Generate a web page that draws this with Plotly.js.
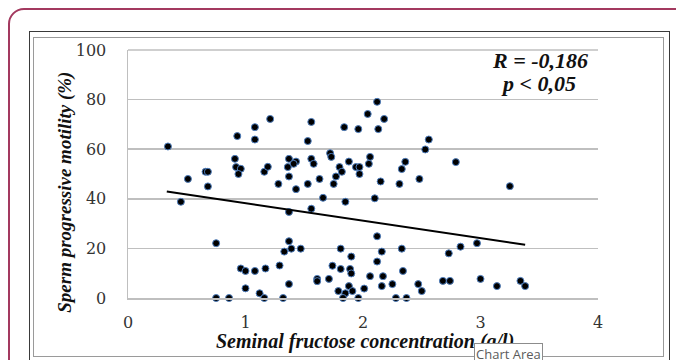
<!DOCTYPE html>
<html>
<head>
<meta charset="utf-8">
<script src="https://cdn.plot.ly/plotly-3.0.1.min.js"></script>
<style>
  html, body { margin: 0; padding: 0; background: #ffffff; }
  #wrap { position: relative; width: 676px; height: 360px; overflow: hidden; background: #fff; }
  #pink { position: absolute; left: 8px; top: 8px; width: 700px; height: 400px; border: 2px solid #a3395f; border-radius: 16px; box-sizing: border-box; }
  #outerFrame { position: absolute; left: 29px; top: 31px; width: 641px; height: 340px; border: 1px solid #3a3a3a; box-sizing: border-box; }
  #innerFrame { position: absolute; left: 33px; top: 37px; width: 631px; height: 320px; border: 1px solid #9a9a9a; box-sizing: border-box; }
  #chart { position: absolute; left: 0; top: 0; width: 676px; height: 360px; }
</style>
</head>
<body>
<div id="wrap">
  <div id="pink"></div>
  <div id="outerFrame"></div>
  <div id="innerFrame"></div>
  <div id="chart"></div>
</div>
<script>
// Seminal fructose concentration (g/l)
var fructose = [
  0.34, 1.21, 1.08, 1.08, 0.93, 0.91, 0.92, 0.96, 0.94, 1.16,
  1.19, 1.28, 0.66, 0.68, 0.51, 0.68, 0.45, 0.75, 0.96, 1.00,
  1.08, 1.17, 1.29, 1.00, 1.12, 1.16, 0.75, 0.86, 1.32, 2.12,
  2.04, 2.18, 2.13, 1.96, 1.84, 1.56, 1.53, 2.56, 2.53, 1.72,
  1.73, 1.37, 1.43, 1.41, 1.36, 1.56, 1.58, 1.88, 2.06, 2.05,
  1.80, 1.82, 1.77, 1.94, 1.97, 1.97, 2.36, 2.33, 1.37, 1.63,
  1.43, 1.53, 1.75, 2.15, 2.31, 2.48, 1.66, 1.85, 2.10, 1.56,
  1.37, 2.12, 1.37, 1.33, 1.39, 1.47, 1.81, 1.90, 2.16, 2.33,
  2.12, 1.74, 1.81, 1.89, 1.90, 2.34, 2.06, 2.17, 1.61, 1.61,
  1.71, 1.37, 1.88, 1.79, 1.85, 1.91, 2.01, 2.16, 2.25, 2.47,
  2.50, 1.83, 1.96, 2.28, 2.37, 2.79, 3.25, 2.73, 2.83, 2.97,
  2.68, 2.74, 3.00, 3.14, 3.34, 3.38
];
// Sperm progressive motility (%)
var motility = [
  61.1, 72.2, 68.9, 63.9, 65.3, 56.1, 52.8, 52.1, 50.0, 50.9,
  52.9, 46.0, 50.9, 50.9, 48.0, 45.0, 38.8, 22.1, 11.9, 10.9,
  10.9, 11.9, 13.1, 3.9, 1.9, 0, 0, 0, 0, 79.1,
  74.2, 72.2, 68.1, 68.1, 68.9, 71.0, 63.3, 63.9, 59.9, 58.4,
  56.9, 56.1, 55.0, 54.1, 52.8, 56.1, 54.1, 55.0, 56.9, 54.1,
  52.8, 50.9, 49.0, 52.8, 52.8, 50.0, 54.9, 52.0, 49.0, 48.0,
  43.9, 46.0, 46.0, 47.0, 46.0, 48.0, 40.4, 38.8, 40.2, 36.0,
  34.7, 24.9, 22.9, 18.7, 19.9, 19.9, 19.9, 16.7, 18.7, 19.9,
  14.7, 13.0, 11.7, 11.7, 9.9, 10.9, 8.8, 8.8, 7.7, 6.8,
  7.7, 5.6, 4.8, 2.8, 1.9, 2.8, 3.8, 4.8, 5.6, 5.6,
  2.8, 0, 0, 0, 0, 54.8, 45.1, 18.0, 20.7, 22.1,
  6.9, 6.9, 7.7, 4.8, 6.9, 4.8
];
// Linear trend line end points
var trendX = [0.33, 3.38];
var trendY = [42.9, 21.5];

var xTickVals = [0, 1, 2, 3, 4];
var yTickVals = [0, 20, 40, 60, 80, 100];
var statR = "R = -0,186";
var statP = "p &lt; 0,05";
var xTitle = "Seminal fructose concentration (g/l)";
var yTitle = "Sperm progressive motility (%)";
var tooltipText = "Chart Area";

// plot area in pixels
var L = 128, R = 598, T = 50, B = 298.5;
function px(x) { return (x - L) / (R - L); }
function py(y) { return (B - y) / (B - T); }

var serifFam = "'Liberation Serif', 'Times New Roman', serif";
var tickFam = "'DejaVu Serif', 'Liberation Serif', serif";

var traces = [
  {
    type: "scatter", mode: "markers",
    x: fructose, y: motility,
    cliponaxis: false,
    marker: { color: "#000000", size: 7, line: { color: "#4f7fbf", width: 1 } },
    hoverinfo: "x+y", showlegend: false
  },
  {
    type: "scatter", mode: "lines",
    x: trendX, y: trendY,
    line: { color: "#000000", width: 2 },
    hoverinfo: "skip", showlegend: false
  }
];

var layout = {
  width: 676, height: 360,
  margin: { l: L, r: 676 - R, t: T, b: 360 - B },
  paper_bgcolor: "rgba(0,0,0,0)",
  plot_bgcolor: "rgba(0,0,0,0)",
  showlegend: false,
  xaxis: {
    range: [0, 4], tickvals: xTickVals, ticktext: xTickVals.map(String),
    showgrid: false, zeroline: false,
    showline: true, linecolor: "#bfbfbf", linewidth: 1.5,
    ticks: "", ticklabelstandoff: 9,
    tickfont: { family: tickFam, size: 16, color: "#333333" },
    fixedrange: true
  },
  yaxis: {
    range: [0, 100], tickvals: yTickVals, ticktext: yTickVals.map(String),
    showgrid: true, gridcolor: "#bfbfbf", gridwidth: 1.5, zeroline: false,
    showline: true, linecolor: "#bfbfbf", linewidth: 1.5,
    ticks: "", ticklabelstandoff: 17,
    tickfont: { family: tickFam, size: 16, color: "#333333" },
    fixedrange: true
  },
  shapes: [
    { type: "line", xref: "paper", yref: "paper", x0: 0, x1: 1, y0: 1, y1: 1, line: { color: "#bfbfbf", width: 1.5 } }
  ],
  annotations: [
    {
      xref: "paper", yref: "paper", x: px(540), y: py(61),
      xanchor: "center", yanchor: "middle", showarrow: false,
      text: "<b><i>" + statR + "</i></b>",
      font: { family: serifFam, size: 22, color: "#111111" }
    },
    {
      xref: "paper", yref: "paper", x: px(538), y: py(83.5),
      xanchor: "center", yanchor: "middle", showarrow: false,
      text: "<b><i>" + statP + "</i></b>",
      font: { family: serifFam, size: 22, color: "#111111" }
    },
    {
      xref: "paper", yref: "paper", x: px(65.5), y: py(192.5),
      xanchor: "center", yanchor: "middle", showarrow: false, textangle: -90,
      text: "<b><i>" + yTitle + "</i></b>",
      font: { family: serifFam, size: 19, color: "#111111" }
    },
    {
      xref: "paper", yref: "paper", x: px(365), y: py(342.5),
      xanchor: "center", yanchor: "middle", showarrow: false,
      text: "<b><i>" + xTitle + "</i></b>",
      font: { family: serifFam, size: 20, color: "#111111" }
    },
    {
      xref: "paper", yref: "paper", x: px(508.5), y: py(355),
      xanchor: "center", yanchor: "middle", showarrow: false,
      text: tooltipText,
      font: { family: "'Open Sans', 'DejaVu Sans', sans-serif", size: 13, color: "#5b5b5b" },
      bgcolor: "#ffffff", bordercolor: "#8c8c8c", borderwidth: 1, borderpad: 1
    }
  ]
};

Plotly.newPlot("chart", traces, layout, { displayModeBar: false, staticPlot: true });
</script>
</body>
</html>
